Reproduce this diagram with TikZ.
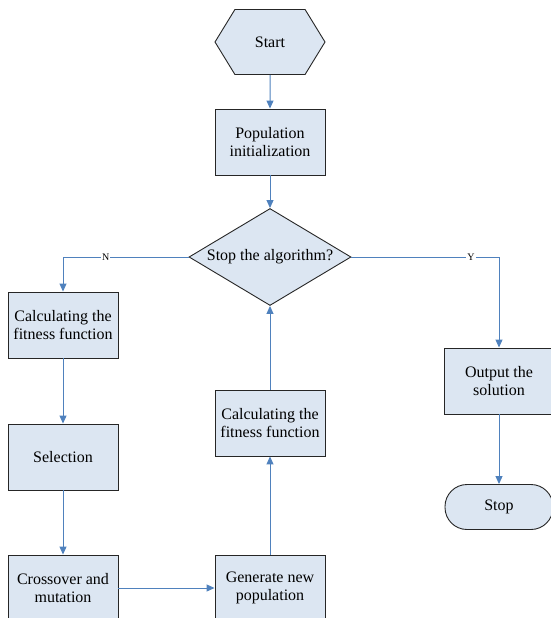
\documentclass[tikz,border=0pt]{standalone}
\usepackage{fontspec}
\setmainfont{Liberation Serif}
\usetikzlibrary{arrows.meta,positioning,shapes.geometric,shapes.symbols}

\definecolor{boxfill}{HTML}{DCE6F2}
\definecolor{flowblue}{HTML}{4F81BD}
\definecolor{boxline}{HTML}{262626}

\tikzset{
	stepbox/.style={rectangle,draw=boxline,fill=boxfill,line width=0.9pt,
		minimum width=110pt,minimum height=66pt,align=center,inner sep=2pt},
	flow/.style={draw=flowblue,line width=1pt,-{Triangle[length=8pt,width=7pt]}}
}

\begin{document}
\begin{tikzpicture}[x=1pt,y=-1pt,font=\fontsize{16}{18.5}\selectfont]
\useasboundingbox (0,0) rectangle (551,618);
\clip (0,0) rectangle (551,618);
\begin{scope}[every node/.style={stepbox}]
	\node[signal,signal to=west and east,signal pointer angle=117,
		minimum width=110pt,minimum height=65pt] (start) at (270,42) {Start};
	\node (popinit) at (270,142) {Population\\initialization};
	\node[diamond,aspect=1.67,minimum width=162pt,minimum height=97pt,inner sep=0pt] (stopq) at (270,257) {Stop the algorithm?};

	\node (calcleft) at (63,325) {Calculating the\\fitness function};
	\node (select) at (63,457) {Selection};
	\node (crossmut) at (63,588) {Crossover and\\mutation};

	\node (gennew) at (270,588) {Generate new\\population};
	\node (calcmid) at (270,423) {Calculating the\\fitness function};

	\node (output) at (499,381) {Output the\\solution};
	\node[rounded corners=22pt,minimum height=45pt,minimum width=108pt] (stop) at (499,507) {Stop};
\end{scope}

\begin{scope}[every node/.style={fill=white,inner sep=1pt,font=\fontsize{10}{12}\selectfont}]
	\draw[flow] (start) -- (popinit);
	\draw[flow] (popinit) -- (stopq);
	\draw[flow] (stopq.west) -| node[pos=0.33] {N} (calcleft.north);
	\draw[flow] (stopq.east) -| node[pos=0.405] {Y} (output.north);
	\draw[flow] (calcleft) -- (select);
	\draw[flow] (select) -- (crossmut);
	\draw[flow] (crossmut) -- (gennew);
	\draw[flow] (gennew) -- (calcmid);
	\draw[flow] (calcmid) -- (stopq);
	\draw[flow] (output) -- (stop);
\end{scope}

\end{tikzpicture}
\end{document}
